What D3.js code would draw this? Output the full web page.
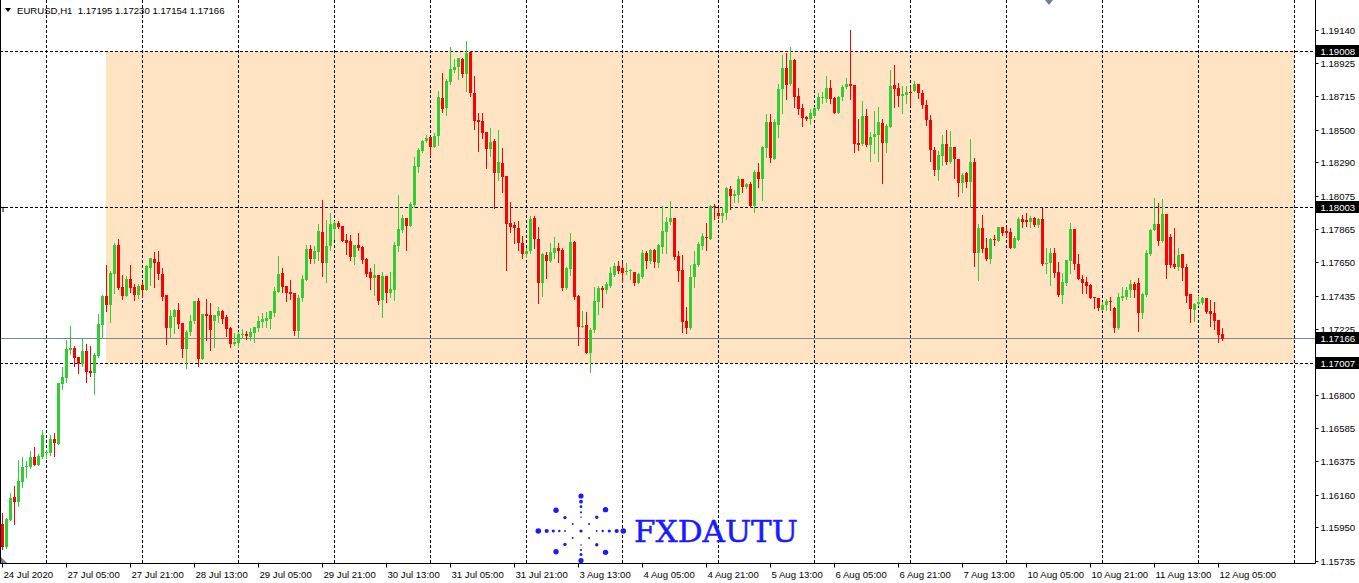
<!DOCTYPE html>
<html><head><meta charset="utf-8">
<script src="https://cdn.jsdelivr.net/npm/d3@7/dist/d3.min.js"></script>
<style>html,body{margin:0;padding:0;background:#fff;}svg{display:block;}</style>
</head><body>
<script>
const symbolTitle = "EURUSD,H1";
const lastBar = ["1.17195","1.17230","1.17154","1.17166"];
const timeLabels = ["24 Jul 2020","27 Jul 05:00","27 Jul 21:00","28 Jul 13:00","29 Jul 05:00","29 Jul 21:00","30 Jul 13:00","31 Jul 05:00","31 Jul 21:00","3 Aug 13:00","4 Aug 05:00","4 Aug 21:00","5 Aug 13:00","6 Aug 05:00","6 Aug 21:00","7 Aug 13:00","10 Aug 05:00","10 Aug 21:00","11 Aug 13:00","12 Aug 05:00"];
const priceTicks = ["1.19140","1.18925","1.18715","1.18500","1.18290","1.18075","1.17865","1.17650","1.17435","1.17225","1.17010","1.16800","1.16585","1.16375","1.16160","1.15950","1.15735"];
const levelLines = [1.19008, 1.18003, 1.17007];
const currentPrice = 1.17166;
const zoneTop = 1.19008, zoneBottom = 1.17007;

const open = [1.15974,1.15827,1.16000,1.16147,1.16115,1.16243,1.16340,1.16340,1.16404,1.16353,1.16404,1.16430,1.16430,1.16519,1.16487,1.16872,1.16911,1.17090,1.17103,1.17045,
1.17000,1.17084,1.16956,1.16943,1.17052,1.17251,1.17436,1.17379,1.17578,1.17764,1.17494,1.17436,1.17545,1.17494,1.17443,1.17507,1.17475,1.17616,1.17674,1.17655,
1.17578,1.17443,1.17232,1.17302,1.17347,1.17264,1.17096,1.17206,1.17277,1.17405,1.17032,1.17321,1.17315,1.17277,1.17309,1.17341,1.17302,1.17232,1.17128,1.17135,
1.17187,1.17193,1.17174,1.17200,1.17232,1.17270,1.17277,1.17289,1.17328,1.17462,1.17584,1.17501,1.17462,1.17456,1.17213,1.17424,1.17539,1.17738,1.17674,1.17719,
1.17847,1.17648,1.17757,1.17866,1.17905,1.17885,1.17796,1.17789,1.17687,1.17764,1.17751,1.17674,1.17590,1.17552,1.17571,1.17411,1.17565,1.17456,1.17475,1.17757,
1.17860,1.17937,1.17885,1.18020,1.18264,1.18366,1.18431,1.18456,1.18392,1.18463,1.18707,1.18642,1.18809,1.18886,1.18905,1.18956,1.18860,1.19001,1.18738,1.18565,
1.18559,1.18488,1.18379,1.18431,1.18226,1.18290,1.18207,1.17905,1.17892,1.17872,1.17777,1.17706,1.17726,1.17937,1.17802,1.17520,1.17700,1.17661,1.17713,1.17745,
1.17732,1.17488,1.17610,1.17783,1.17436,1.17238,1.17251,1.17071,1.17219,1.17398,1.17488,1.17475,1.17501,1.17571,1.17629,1.17616,1.17590,1.17597,1.17590,1.17520,
1.17558,1.17713,1.17661,1.17732,1.17648,1.17751,1.17847,1.17911,1.17937,1.17693,1.17603,1.17277,1.17232,1.17558,1.17635,1.17757,1.17815,1.17802,1.18014,1.17969,
1.17950,1.17969,1.18123,1.18078,1.18084,1.18187,1.18136,1.18155,1.18014,1.18232,1.18187,1.18386,1.18552,1.18315,1.18533,1.18764,1.18899,1.18796,1.18950,1.18719,
1.18642,1.18585,1.18572,1.18591,1.18636,1.18707,1.18700,1.18771,1.18707,1.18610,1.18713,1.18777,1.18796,1.18790,1.18418,1.18411,1.18591,1.18405,1.18456,1.18469,
1.18546,1.18418,1.18520,1.18790,1.18771,1.18719,1.18726,1.18745,1.18752,1.18796,1.18739,1.18661,1.18565,1.18373,1.18245,1.18334,1.18411,1.18296,1.18392,1.18315,
1.18161,1.18226,1.18168,1.18296,1.17713,1.17872,1.17745,1.17674,1.17802,1.17789,1.17879,1.17853,1.17847,1.17745,1.17796,1.17930,1.17924,1.17911,1.17937,1.17892,
1.17930,1.17642,1.17648,1.17713,1.17590,1.17443,1.17520,1.17661,1.17866,1.17642,1.17545,1.17526,1.17507,1.17430,1.17424,1.17347,1.17379,1.17405,1.17360,1.17232,
1.17424,1.17430,1.17475,1.17513,1.17520,1.17328,1.17443,1.17706,1.17860,1.17898,1.17789,1.17962,1.17815,1.17642,1.17623,1.17706,1.17623,1.17449,1.17347,1.17385,
1.17392,1.17424,1.17341,1.17328,1.17283,1.17195];
const high = [1.16045,1.16013,1.16173,1.16218,1.16385,1.16404,1.16379,1.16443,1.16468,1.16423,1.16577,1.16449,1.16545,1.16558,1.16879,1.16981,1.17154,1.17245,1.17116,1.17045,
1.17168,1.17128,1.17116,1.17071,1.17321,1.17443,1.17635,1.17597,1.17777,1.17802,1.17571,1.17565,1.17635,1.17513,1.17513,1.17526,1.17635,1.17681,1.17719,1.17726,
1.17616,1.17443,1.17347,1.17354,1.17392,1.17264,1.17219,1.17315,1.17392,1.17424,1.17321,1.17417,1.17392,1.17315,1.17366,1.17347,1.17315,1.17238,1.17200,1.17206,
1.17225,1.17213,1.17232,1.17238,1.17309,1.17328,1.17334,1.17341,1.17494,1.17693,1.17616,1.17501,1.17539,1.17456,1.17443,1.17571,1.17764,1.17764,1.17757,1.17898,
1.18052,1.17924,1.17969,1.17917,1.17917,1.17885,1.17834,1.17828,1.17764,1.17841,1.17757,1.17681,1.17616,1.17642,1.17571,1.17590,1.17565,1.17590,1.17783,1.18084,
1.17956,1.17937,1.18039,1.18328,1.18386,1.18437,1.18469,1.18456,1.18482,1.18752,1.18867,1.18828,1.19034,1.18956,1.18963,1.18963,1.19072,1.19008,1.18847,1.18610,
1.18610,1.18488,1.18514,1.18443,1.18501,1.18386,1.18207,1.18039,1.17911,1.17917,1.17821,1.17745,1.17950,1.17950,1.17879,1.17713,1.17719,1.17777,1.17815,1.17777,
1.17745,1.17623,1.17841,1.17789,1.17443,1.17341,1.17334,1.17232,1.17494,1.17501,1.17501,1.17526,1.17623,1.17648,1.17661,1.17648,1.17648,1.17610,1.17590,1.17584,
1.17732,1.17726,1.17738,1.17738,1.17770,1.18014,1.17943,1.18046,1.17937,1.17726,1.17700,1.17366,1.17635,1.17726,1.17783,1.17841,1.17905,1.18020,1.18026,1.18001,
1.18007,1.18136,1.18142,1.18116,1.18207,1.18187,1.18161,1.18168,1.18245,1.18290,1.18399,1.18604,1.18604,1.18572,1.18796,1.18982,1.18995,1.19034,1.18956,1.18771,
1.18668,1.18591,1.18636,1.18649,1.18739,1.18745,1.18847,1.18822,1.18713,1.18719,1.18790,1.18835,1.19143,1.18790,1.18572,1.18687,1.18636,1.18488,1.18623,1.18649,
1.18572,1.18540,1.18886,1.18918,1.18803,1.18784,1.18784,1.18777,1.18815,1.18796,1.18758,1.18694,1.18597,1.18392,1.18366,1.18469,1.18501,1.18495,1.18392,1.18315,
1.18226,1.18232,1.18443,1.18322,1.17898,1.17956,1.17809,1.17809,1.17828,1.17879,1.17879,1.17879,1.17872,1.17821,1.17943,1.17956,1.17969,1.17950,1.17943,1.17937,
1.18001,1.17745,1.17745,1.17745,1.17655,1.17584,1.17667,1.17905,1.17866,1.17706,1.17571,1.17558,1.17513,1.17430,1.17424,1.17398,1.17417,1.17430,1.17366,1.17456,
1.17494,1.17494,1.17539,1.17526,1.17552,1.17456,1.17732,1.17866,1.18065,1.18033,1.18059,1.17962,1.17834,1.17872,1.17745,1.17706,1.17642,1.17449,1.17392,1.17436,
1.17430,1.17424,1.17411,1.17398,1.17283,1.17230];
const low = [1.15814,1.15821,1.16000,1.15974,1.16090,1.16211,1.16276,1.16334,1.16353,1.16353,1.16398,1.16398,1.16417,1.16411,1.16487,1.16840,1.16885,1.17064,1.16988,1.16943,
1.16988,1.16885,1.16924,1.16808,1.17045,1.17168,1.17341,1.17270,1.17456,1.17481,1.17417,1.17436,1.17462,1.17411,1.17424,1.17430,1.17475,1.17507,1.17494,1.17545,
1.17411,1.17128,1.17168,1.17200,1.17232,1.17045,1.16975,1.17187,1.17264,1.16988,1.17032,1.17154,1.17090,1.17109,1.17270,1.17264,1.17181,1.17109,1.17122,1.17109,
1.17168,1.17161,1.17154,1.17141,1.17213,1.17238,1.17238,1.17232,1.17309,1.17462,1.17462,1.17405,1.17417,1.17187,1.17174,1.17405,1.17539,1.17648,1.17648,1.17667,
1.17565,1.17526,1.17732,1.17802,1.17872,1.17789,1.17706,1.17667,1.17642,1.17732,1.17648,1.17565,1.17481,1.17443,1.17385,1.17302,1.17398,1.17430,1.17411,1.17726,
1.17847,1.17732,1.17885,1.18007,1.18232,1.18360,1.18424,1.18341,1.18392,1.18405,1.18617,1.18597,1.18796,1.18873,1.18828,1.18841,1.18752,1.18719,1.18508,1.18366,
1.18450,1.18258,1.18334,1.18001,1.18181,1.18104,1.17603,1.17847,1.17777,1.17732,1.17681,1.17687,1.17713,1.17745,1.17392,1.17436,1.17552,1.17655,1.17681,1.17655,
1.17475,1.17481,1.17571,1.17417,1.17122,1.17238,1.17071,1.16949,1.17206,1.17321,1.17366,1.17456,1.17494,1.17565,1.17584,1.17526,1.17578,1.17545,1.17507,1.17520,
1.17552,1.17616,1.17648,1.17623,1.17623,1.17713,1.17713,1.17898,1.17674,1.17533,1.17206,1.17200,1.17225,1.17494,1.17629,1.17738,1.17732,1.17802,1.17930,1.17937,
1.17911,1.17930,1.17994,1.18039,1.18039,1.18104,1.18129,1.18007,1.17975,1.18136,1.18052,1.18328,1.18296,1.18315,1.18456,1.18610,1.18700,1.18790,1.18649,1.18604,
1.18527,1.18565,1.18540,1.18585,1.18630,1.18674,1.18681,1.18674,1.18610,1.18610,1.18694,1.18771,1.18700,1.18360,1.18373,1.18405,1.18399,1.18302,1.18354,1.18302,
1.18161,1.18360,1.18520,1.18649,1.18655,1.18610,1.18674,1.18661,1.18752,1.18707,1.18642,1.18533,1.18302,1.18213,1.18181,1.18277,1.18283,1.18290,1.18193,1.18078,
1.18104,1.18136,1.18007,1.17629,1.17539,1.17719,1.17667,1.17648,1.17764,1.17789,1.17828,1.17821,1.17745,1.17745,1.17796,1.17879,1.17885,1.17879,1.17885,1.17879,
1.17635,1.17584,1.17507,1.17558,1.17436,1.17392,1.17507,1.17584,1.17610,1.17545,1.17456,1.17456,1.17424,1.17360,1.17347,1.17347,1.17347,1.17347,1.17206,1.17225,
1.17411,1.17417,1.17430,1.17430,1.17213,1.17296,1.17436,1.17700,1.17860,1.17764,1.17783,1.17552,1.17623,1.17616,1.17603,1.17539,1.17398,1.17270,1.17277,1.17379,
1.17385,1.17328,1.17245,1.17225,1.17141,1.17154];
const close = [1.15827,1.16006,1.16141,1.16115,1.16250,1.16340,1.16347,1.16404,1.16353,1.16411,1.16545,1.16436,1.16519,1.16494,1.16879,1.16917,1.17096,1.17103,1.17039,1.17000,
1.17084,1.16949,1.16943,1.17058,1.17257,1.17436,1.17379,1.17584,1.17764,1.17488,1.17436,1.17545,1.17488,1.17443,1.17501,1.17475,1.17629,1.17681,1.17648,1.17578,
1.17430,1.17232,1.17309,1.17347,1.17257,1.17096,1.17206,1.17277,1.17405,1.17032,1.17321,1.17309,1.17219,1.17315,1.17341,1.17289,1.17225,1.17128,1.17141,1.17193,
1.17193,1.17181,1.17206,1.17238,1.17277,1.17289,1.17296,1.17341,1.17469,1.17578,1.17494,1.17456,1.17449,1.17213,1.17424,1.17545,1.17738,1.17674,1.17726,1.17853,
1.17648,1.17757,1.17898,1.17905,1.17879,1.17789,1.17777,1.17687,1.17764,1.17745,1.17667,1.17578,1.17552,1.17571,1.17405,1.17565,1.17456,1.17481,1.17764,1.17866,
1.17937,1.17885,1.18026,1.18270,1.18373,1.18431,1.18450,1.18392,1.18463,1.18713,1.18636,1.18815,1.18892,1.18905,1.18963,1.18860,1.18995,1.18738,1.18559,1.18553,
1.18482,1.18379,1.18424,1.18226,1.18296,1.18200,1.17898,1.17879,1.17872,1.17777,1.17706,1.17726,1.17930,1.17802,1.17520,1.17706,1.17661,1.17719,1.17745,1.17726,
1.17488,1.17616,1.17783,1.17430,1.17238,1.17245,1.17071,1.17219,1.17405,1.17488,1.17475,1.17513,1.17584,1.17629,1.17597,1.17584,1.17597,1.17603,1.17520,1.17578,
1.17713,1.17661,1.17732,1.17655,1.17764,1.17853,1.17911,1.17937,1.17687,1.17597,1.17270,1.17232,1.17558,1.17642,1.17770,1.17821,1.17809,1.18014,1.18007,1.17950,
1.17969,1.18129,1.18078,1.18091,1.18187,1.18136,1.18155,1.18014,1.18232,1.18187,1.18392,1.18552,1.18322,1.18552,1.18764,1.18899,1.18790,1.18950,1.18713,1.18636,
1.18578,1.18572,1.18610,1.18642,1.18713,1.18713,1.18771,1.18700,1.18610,1.18713,1.18777,1.18796,1.18784,1.18411,1.18405,1.18591,1.18405,1.18456,1.18476,1.18552,
1.18418,1.18527,1.18784,1.18764,1.18719,1.18732,1.18745,1.18739,1.18796,1.18739,1.18661,1.18565,1.18373,1.18245,1.18341,1.18411,1.18296,1.18392,1.18315,1.18161,
1.18213,1.18168,1.18296,1.17713,1.17872,1.17738,1.17674,1.17802,1.17796,1.17879,1.17841,1.17841,1.17745,1.17809,1.17930,1.17911,1.17911,1.17937,1.17892,1.17930,
1.17642,1.17648,1.17713,1.17584,1.17443,1.17526,1.17667,1.17866,1.17642,1.17545,1.17520,1.17501,1.17424,1.17424,1.17360,1.17379,1.17405,1.17398,1.17232,1.17430,
1.17436,1.17475,1.17513,1.17475,1.17328,1.17449,1.17713,1.17860,1.17898,1.17789,1.17962,1.17635,1.17635,1.17623,1.17700,1.17616,1.17436,1.17354,1.17385,1.17398,
1.17424,1.17334,1.17321,1.17277,1.17187,1.17166];

const W = 1359, H = 583;
const plotRight = 1315.5, plotBottom = 563.5;
const FONT = "'Liberation Sans', Arial, sans-serif";
const bull = "#32CD32", bear = "#FF0000";

const svg = d3.select("body").append("svg").attr("width", W).attr("height", H)
  .style("font-family", FONT);

const x = d3.scaleLinear().domain([0, 305]).range([2.5, 1222.5]);
const y = d3.scaleLinear().domain([zoneBottom, zoneTop]).range([363, 51]);
const crisp = v => Math.round(v - 0.5) + 0.5;

svg.append("defs").append("clipPath").attr("id", "plot")
  .append("rect").attr("x", 0).attr("y", 0).attr("width", plotRight).attr("height", plotBottom);

const g = svg.append("g").attr("clip-path", "url(#plot)");

// zone rectangle
g.append("rect").attr("x", x(26) - 0.5).attr("y", Math.round(y(zoneTop)))
  .attr("width", x(323) - x(26)).attr("height", Math.round(y(zoneBottom)) - Math.round(y(zoneTop)))
  .attr("fill", "#FFE4C4");

// vertical grid (daily)
const gridBars = d3.range(11, 330, 24);
g.selectAll("line.vg").data(gridBars).enter().append("line")
  .attr("x1", d => crisp(x(d))).attr("x2", d => crisp(x(d)))
  .attr("y1", 0).attr("y2", plotBottom)
  .attr("stroke", "#000").attr("stroke-width", 1).attr("stroke-dasharray", "3,2");

// horizontal level lines
g.selectAll("line.lvl").data(levelLines).enter().append("line")
  .attr("x1", 0).attr("x2", plotRight)
  .attr("y1", d => crisp(y(d))).attr("y2", d => crisp(y(d)))
  .attr("stroke", "#000").attr("stroke-width", 1).attr("stroke-dasharray", "3,2");

// current price line
g.append("line").attr("x1", 0).attr("x2", plotRight)
  .attr("y1", crisp(y(currentPrice))).attr("y2", crisp(y(currentPrice)))
  .attr("stroke", "#778899").attr("stroke-width", 1);

// candles
const idx = d3.range(open.length);
const col = i => close[i] >= open[i] ? bull : bear;
g.selectAll("line.wick").data(idx).enter().append("line")
  .attr("x1", i => x(i)).attr("x2", i => x(i))
  .attr("y1", i => Math.round(y(high[i]))).attr("y2", i => Math.round(y(low[i])) + 1)
  .attr("stroke", col).attr("stroke-width", 1);
g.selectAll("rect.body").data(idx).enter().append("rect")
  .attr("x", i => x(i) - 1.5).attr("width", 3)
  .attr("y", i => Math.round(Math.min(y(open[i]), y(close[i]))))
  .attr("height", i => Math.max(1, Math.round(Math.abs(y(open[i]) - y(close[i])))))
  .attr("fill", col);

// logo (watermark)
const logo = svg.append("g").attr("fill", "#1a1aff");
const cx = 581, cy = 531;
const arms = [
  {dx: 1, dy: 0, d: [15.7, 21.7, 28.3, 35.7, 42.3], r: [0.9, 1.2, 1.6, 2.1, 2.8]},
  {dx: -1, dy: 0, d: [16, 21.7, 27.7, 34.3, 42.7], r: [0.9, 1.2, 1.6, 2.1, 2.8]},
  {dx: 0, dy: -1, d: [13.7, 18.7, 24.3, 29.3, 35], r: [0.8, 1.1, 1.4, 1.9, 2.6]},
  {dx: 0, dy: 1, d: [14, 19, 23.5, 29.5], r: [0.8, 1.1, 1.5, 2.6]},
  {dx: -1.2, dy: -1, d: [10.8, 20.9, 32.5], r: [1.0, 1.7, 2.7]},
  {dx: 1.15, dy: -1, d: [10.8, 20.9, 32.5], r: [1.0, 1.7, 2.7]},
  {dx: -1.2, dy: 1, d: [10.8, 20.9, 32.5], r: [1.0, 1.7, 2.7]},
  {dx: 1.15, dy: 1, d: [10.8, 20.9, 32.5], r: [1.0, 1.7, 2.7]}
];
logo.append("circle").attr("cx", cx).attr("cy", cy).attr("r", 1.6);
arms.forEach(a => {
  const n = Math.hypot(a.dx, a.dy);
  a.d.forEach((dd, k) => {
    logo.append("circle").attr("cx", cx + a.dx / n * dd).attr("cy", cy + a.dy / n * dd).attr("r", a.r[k]);
  });
});
logo.append("text").attr("x", 634).attr("y", 542).attr("font-family", "'DejaVu Serif', serif")
  .attr("font-size", 30).attr("textLength", 164).attr("lengthAdjust", "spacingAndGlyphs")
  .attr("stroke", "#1a1aff").attr("stroke-width", 0.5)
  .text("FXDAUTU");

// frame
svg.append("line").attr("x1", 0.5).attr("x2", 0.5).attr("y1", 0).attr("y2", plotBottom).attr("stroke", "#000");
svg.append("line").attr("x1", 0).attr("x2", plotRight).attr("y1", plotBottom).attr("y2", plotBottom).attr("stroke", "#000");
svg.append("line").attr("x1", plotRight).attr("x2", plotRight).attr("y1", 0).attr("y2", plotBottom).attr("stroke", "#000");

// right price axis
const pa = svg.append("g");
priceTicks.forEach(t => {
  const yy = crisp(y(+t));
  pa.append("line").attr("x1", plotRight).attr("x2", plotRight + 3).attr("y1", yy).attr("y2", yy).attr("stroke", "#000");
  pa.append("text").attr("x", 1320.5).attr("y", yy + 3.5).attr("font-size", 9.6).attr("fill", "#000").text(t);
});
// price boxes
const boxes = levelLines.concat([currentPrice]);
boxes.forEach(p => {
  const yy = crisp(y(p));
  pa.append("rect").attr("x", plotRight + 0.5).attr("y", yy - 6.5).attr("width", W - plotRight).attr("height", 12).attr("fill", "#000");
  pa.append("text").attr("x", 1320.5).attr("y", yy + 3.5).attr("font-size", 9.6).attr("fill", "#fff").text(p.toFixed(5));
});

// time axis
const ta = svg.append("g");
timeLabels.forEach((t, k) => {
  const xx = crisp(x(k * 16));
  ta.append("line").attr("x1", xx).attr("x2", xx).attr("y1", plotBottom).attr("y2", plotBottom + 4).attr("stroke", "#000");
  ta.append("text").attr("x", xx + 1).attr("y", 578).attr("font-size", 9.6).attr("fill", "#000").text(t);
});

// header
svg.append("path").attr("d", "M5,8 L11,8 L8,12 Z").attr("fill", "#000");
svg.append("text").attr("x", 17).attr("y", 13.5).attr("font-size", 9.6).attr("fill", "#000")
  .attr("xml:space", "preserve").text(symbolTitle + "  " + lastBar.join(" "));

// small markers
svg.append("path").attr("d", "M1045,0 L1053,0 L1049,5 Z").attr("fill", "#708090");
svg.append("path").attr("d", "M1,557 L1,563 L7,563 Z").attr("fill", "#708090");
svg.append("path").attr("d", "M3,212 L3,207.5 L7,207.5").attr("fill", "none").attr("stroke", "#000");
</script>
</body></html>
